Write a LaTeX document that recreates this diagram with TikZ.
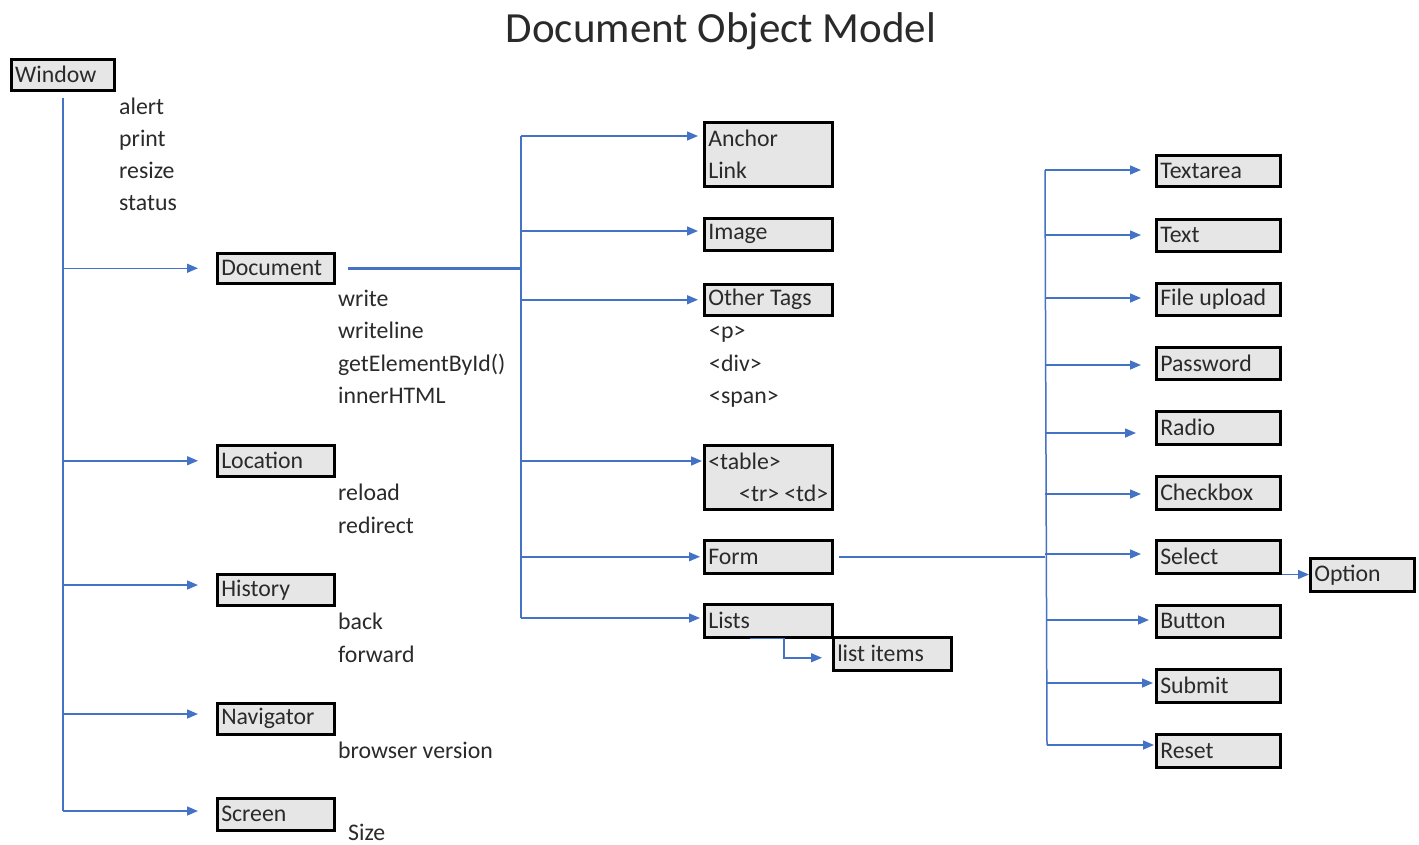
\documentclass[tikz,border=0pt]{standalone}
\usepackage{fontspec}
\setmainfont{Carlito}
\usetikzlibrary{arrows.meta}
\definecolor{lineblue}{HTML}{4472C4}
\definecolor{boxfill}{HTML}{E6E6E6}
\definecolor{txt}{HTML}{2A2A2A}
\begin{document}
\begin{tikzpicture}[x=1pt,y=-1pt,
  box/.style={draw=black, line width=2.5pt, fill=boxfill, anchor=north west, inner xsep=4pt, inner ysep=0pt, align=flush left, font=\fontsize{23.8}{32}\selectfont, text=txt},
  lbl/.style={anchor=base west, inner sep=0pt, font=\fontsize{23.8}{28}\selectfont, text=txt},
  conn/.style={draw=lineblue, line width=1.5pt},
  arr/.style={conn, -{Triangle[length=11pt,width=9pt]}}]
\useasboundingbox (0,0) rectangle (1419,844);
\node[font=\fontsize{43}{50}\selectfont, text=txt] (title) at (721,31) {Document Object Model};
% left column
\node[box, text width=95pt, minimum height=31pt] (win) at (10,58) {Window};
\node[box, text width=109pt, minimum height=30pt] (doc) at (216,252) {Document};
\node[box, text width=109pt, minimum height=31pt] (loc) at (216,444) {Location};
\node[box, text width=109pt, minimum height=31pt] (hist) at (216,573) {History};
\node[box, text width=109pt, minimum height=31pt] (nav) at (216,702) {Navigator};
\node[box, text width=109pt, minimum height=32pt] (scr) at (216,797) {Screen};
% middle column
\node[box, text width=120pt, minimum height=64pt] (anchor) at (703,121) {Anchor\\Link};
\node[box, text width=120pt, minimum height=32pt] (image) at (703,217) {Image};
\node[box, text width=120pt, minimum height=31pt] (other) at (703,283) {Other Tags};
\node[box, text width=120pt, minimum height=64pt] (table) at (703,444) {<table>\\\hspace*{1.3em}<tr> <td>};
\node[box, text width=120pt, minimum height=33pt] (form) at (703,539) {Form};
\node[box, text width=120pt, minimum height=33pt] (lists) at (703,603) {Lists};
\node[box, text width=110pt, minimum height=33pt] (items) at (832,636) {list items};
% right column
\node[box, text width=116pt, minimum height=31pt] (textarea) at (1155,154) {Textarea};
\node[box, text width=116pt, minimum height=32pt] (text) at (1155,218) {Text};
\node[box, text width=116pt, minimum height=32pt] (file) at (1155,282) {File upload};
\node[box, text width=116pt, minimum height=32pt] (pass) at (1155,346) {Password};
\node[box, text width=116pt, minimum height=33pt] (radio) at (1155,410) {Radio};
\node[box, text width=116pt, minimum height=33pt] (check) at (1155,475) {Checkbox};
\node[box, text width=116pt, minimum height=33pt] (select) at (1155,539) {Select};
\node[box, text width=116pt, minimum height=32pt] (button) at (1155,604) {Button};
\node[box, text width=116pt, minimum height=33pt] (submit) at (1155,668) {Submit};
\node[box, text width=116pt, minimum height=33pt] (reset) at (1155,733) {Reset};
\node[box, text width=96pt, minimum height=33pt] (option) at (1309,557) {Option};
% labels
\node[lbl] (l-alert) at (119,114) {alert};
\node[lbl] (l-print) at (119,146) {print};
\node[lbl] (l-resize) at (119,178) {resize};
\node[lbl] (l-status) at (119,210) {status};
\node[lbl] (l-write) at (338,306) {write};
\node[lbl] (l-writeline) at (338,338) {writeline};
\node[lbl] (l-getel) at (338,371) {getElementById()};
\node[lbl] (l-inner) at (338,403) {innerHTML};
\node[lbl] (l-reload) at (338,500) {reload};
\node[lbl] (l-redirect) at (338,533) {redirect};
\node[lbl] (l-back) at (338,629) {back};
\node[lbl] (l-forward) at (338,662) {forward};
\node[lbl] (l-browser) at (338,758) {browser version};
\node[lbl] (l-size) at (348,840) {Size};
\node[lbl] (l-p) at (709,338) {<p>};
\node[lbl] (l-div) at (709,371) {<div>};
\node[lbl] (l-span) at (709,403) {<span>};
% window trunk
\coordinate (wtop) at (63,98);
\coordinate (wbot) at (63,811);
\draw[conn] (wtop) -- (wbot);
\draw[arr] (wtop |- doc.west) -- ([xshift=-18pt]doc.west);
\draw[arr] (wtop |- loc.west) -- ([xshift=-18pt]loc.west);
\draw[arr] (wtop |- {(0,585)}) -- ([xshift=-18pt]hist.west |- {(0,585)});
\draw[arr] (wtop |- {(0,714)}) -- ([xshift=-18pt]nav.west |- {(0,714)});
\draw[arr] (wbot) -- ([xshift=-18pt]scr.west |- wbot);
% document trunk
\coordinate (dtop) at (521,136);
\coordinate (dbot) at (521,618);
\draw[conn, line width=3pt] ([xshift=12pt]doc.east) -- (dtop |- doc.east);
\draw[conn] (dtop) -- (dbot);
\draw[arr] (dtop) -- ([xshift=-5pt]anchor.west |- dtop);
\draw[arr] (dtop |- {(0,231)}) -- ([xshift=-5pt]image.west |- {(0,231)});
\draw[arr] (dtop |- other.west) -- ([xshift=-5pt]other.west);
\draw[arr] (dtop |- {(0,461)}) -- ([xshift=-1pt]table.west |- {(0,461)});
\draw[arr] (dtop |- form.west) -- ([xshift=-3pt]form.west);
\draw[arr] (dbot) -- ([xshift=-3pt]lists.west |- dbot);
\draw[arr] ([xshift=47pt]lists.south west) -- ++(34,0) |- ([xshift=-10pt,yshift=-4pt]items.west);
% form trunk
\coordinate (ftop) at (1045,170);
\coordinate (fbot) at (1047,745);
\draw[conn] ([xshift=5pt]form.east) -- (ftop |- form.east);
\draw[conn] (ftop) -- (fbot);
\draw[arr] (ftop) -- ([xshift=-14pt]textarea.west |- ftop);
\draw[arr] (ftop |- {(0,235)}) -- ([xshift=-14pt]text.west |- {(0,235)});
\draw[arr] (ftop |- {(0,298)}) -- ([xshift=-14pt]file.west |- {(0,298)});
\draw[arr] (ftop |- {(0,365)}) -- ([xshift=-14pt]pass.west |- {(0,365)});
\draw[arr] (ftop |- {(0,433)}) -- ([xshift=-19pt]radio.west |- {(0,433)});
\draw[arr] (ftop |- {(0,494)}) -- ([xshift=-14pt]check.west |- {(0,494)});
\draw[arr] (ftop |- {(0,554)}) -- ([xshift=-14pt]select.west |- {(0,554)});
\draw[arr] (fbot |- {(0,620)}) -- ([xshift=-6pt]button.west |- {(0,620)});
\draw[arr] (fbot |- {(0,683)}) -- ([xshift=-2pt]submit.west |- {(0,683)});
\draw[arr] (fbot) -- ([xshift=-1pt]reset.west |- fbot);
\draw[arr] (select.south east) -- (option.west |- select.south east);
\end{tikzpicture}
\end{document}
